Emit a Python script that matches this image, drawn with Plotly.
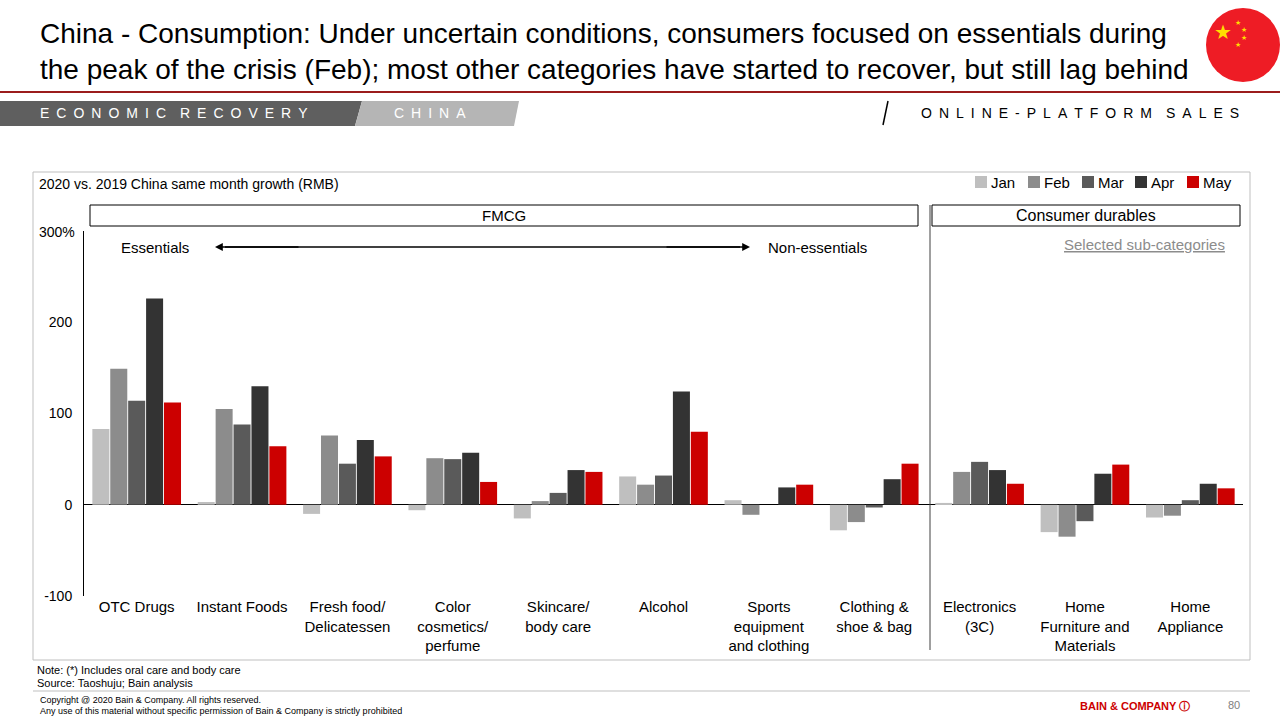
import plotly.graph_objects as go

categories = ["OTC Drugs", "Instant Foods", "Fresh food/<br>Delicatessen", "Color<br>cosmetics/<br>perfume",
              "Skincare/<br>body care", "Alcohol", "Sports<br>equipment<br>and clothing", "Clothing &<br>shoe & bag",
              "Electronics<br>(3C)", "Home<br>Furniture and<br>Materials", "Home<br>Appliance"]
jan = [83, 3, -10, -6, -15, 31, 5, -28, 2, -30, -14]
feb = [149, 105, 76, 51, 4, 22, -11, -19, 36, -35, -12]
mar = [114, 88, 45, 50, 13, 32, 0, -3, 47, -18, 5]
apr = [226, 130, 71, 57, 38, 124, 19, 28, 38, 34, 23]
may = [112, 64, 53, 25, 36, 80, 22, 45, 23, 44, 18]
months = ["Jan", "Feb", "Mar", "Apr", "May"]
colors = ["#BFBFBF", "#8C8C8C", "#5A5A5A", "#333333", "#CC0000"]

L, R, T, B = 84, 1243, 231, 596
def px(x): return (x - L) / (R - L)
def py(y): return (B - y) / (B - T)

FONT = "Liberation Sans, Arial, sans-serif"
fig = go.Figure()
for m, vals, c in zip(months, [jan, feb, mar, apr, may], colors):
    fig.add_trace(go.Bar(name=m, x=categories, y=vals, marker_color=c, marker_line_width=0, showlegend=False))

shapes = []
ann = []
def text(x, y, s, size=15, color="black", xa="left", ya="middle", **kw):
    ann.append(dict(x=px(x), y=py(y), xref="paper", yref="paper", text=s, showarrow=False,
                    xanchor=xa, yanchor=ya, font=dict(size=size, color=color, family=FONT), **kw))
def rect(x0, y0, x1, y1, line="black", fill=None, w=1):
    shapes.append(dict(type="rect", xref="paper", yref="paper", x0=px(x0), x1=px(x1), y0=py(y0), y1=py(y1),
                       line=dict(color=line, width=w), fillcolor=fill))
def line(x0, y0, x1, y1, color="black", w=1):
    shapes.append(dict(type="line", xref="paper", yref="paper", x0=px(x0), x1=px(x1), y0=py(y0), y1=py(y1),
                       line=dict(color=color, width=w)))
def poly(pts, fill):
    p = "M " + " L ".join(f"{px(a)},{py(b)}" for a, b in pts) + " Z"
    shapes.append(dict(type="path", xref="paper", yref="paper", path=p, fillcolor=fill, line=dict(width=0)))
def spaced(s):
    return "\u2002\u2002".join("\u2002".join(w) for w in s.split(" "))

# header
text(38, 52, "China - Consumption: Under uncertain conditions, consumers focused on essentials during<br>"
     "the peak of the crisis (Feb); most other categories have started to recover, but still lag behind",
     size=28, align="left")
line(0, 92, 1280, 92, "#9B1C1C", 2)
poly([(0, 101), (362, 101), (355, 126), (0, 126)], "#5F5F5F")
poly([(362, 101), (519, 101), (514, 126), (355, 126)], "#B5B5B5")
text(38, 113, spaced("ECONOMIC RECOVERY"), size=14, color="white")
text(392, 113, spaced("CHINA"), size=14, color="white")
line(888, 101, 883, 125, "black", 1.5)
text(1241, 113, spaced("ONLINE-PLATFORM SALES"), size=14, xa="right")
shapes.append(dict(type="circle", xref="paper", yref="paper", x0=px(1206), x1=px(1280), y0=py(8), y1=py(82),
                   fillcolor="#EE1C25", line=dict(width=0)))
text(1223, 32, "★", size=20, color="#FFDE00", xa="center")
for sx, sy in [(1238, 22), (1244, 29), (1244, 37), (1238, 44)]:
    text(sx, sy, "★", size=7, color="#FFDE00", xa="center")

# chart frame and annotations
rect(33, 172, 1250, 660, line="#BFBFBF")
text(37, 184, "2020 vs. 2019 China same month growth (RMB)", size=14)
for m, c, x0 in zip(months, colors, [975, 1028, 1082, 1135, 1187]):
    rect(x0, 176, x0 + 12, 188, line=c, fill=c, w=0)
    text(x0 + 14, 182, m, size=15)
rect(90, 205, 918, 226)
rect(932, 205, 1240, 226)
text(504, 215, "FMCG", size=15, xa="center")
text(1086, 215, "Consumer durables", size=16, xa="center")
line(930, 205, 930, 650, "#404040", 1)
text(37, 232, "300%", size=14)
text(155, 247, "Essentials", size=15, xa="center")
text(817, 247, "Non-essentials", size=15, xa="center")
line(225, 247, 740, 247, "black", 1.3)
for tip, tail in [(215, 300), (750, 665)]:
    ann.append(dict(x=px(tip), y=py(247), ax=tail - tip, ay=0, xref="paper", yref="paper",
                    axref="pixel", ayref="pixel", text="", showarrow=True, arrowhead=2,
                    arrowsize=1.2, arrowwidth=1.3, arrowcolor="black"))
text(1144, 244, "<u>Selected sub-categories</u>", size=15, color="#8C8C8C", xa="center")

# footer
text(35, 670, "Note: (*) Includes oral care and body care", size=11)
text(35, 683, "Source: Taoshuju; Bain analysis", size=11)
line(33, 691, 1250, 691, "#BFBFBF", 1)
text(38, 700, "Copyright @ 2020 Bain & Company. All rights reserved.", size=9)
text(38, 711, "Any use of this material without specific permission of Bain & Company is strictly prohibited", size=9)
text(1135, 706, "<b>BAIN & COMPANY ⓘ</b>", size=11, color="#CC0000", xa="center")
text(1242, 705, "80", size=11, color="#808080", xa="right")

fig.update_layout(
    width=1280, height=720, barmode="group", bargap=0.15, bargroupgap=0.05,
    margin=dict(l=L, r=1280 - R, t=T, b=720 - B), paper_bgcolor="white", plot_bgcolor="white",
    font=dict(family=FONT, size=15, color="black"),
    shapes=shapes, annotations=ann,
)
fig.update_xaxes(showline=False, ticks="", tickfont=dict(size=15), zeroline=False)
fig.update_yaxes(range=[-100, 300], tickvals=[-100, 0, 100, 200], ticktext=["-100", "0", "100", "200"],
                 showgrid=False, zeroline=True, zerolinecolor="black", zerolinewidth=1,
                 showline=True, linecolor="black", linewidth=1, tickfont=dict(size=14), ticklabelstandoff=8)
fig.write_html("out.html", config={"displayModeBar": False},
               post_script="document.body.style.margin='0';")
